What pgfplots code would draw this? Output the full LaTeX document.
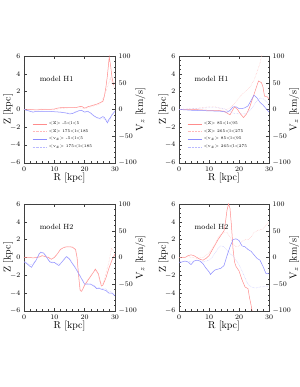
\documentclass[border=0pt]{standalone}
\usepackage{pgfplots}
\pgfplotsset{compat=1.18}
\definecolor{myred}{RGB}{255,140,140}
\definecolor{myblue}{RGB}{140,140,255}
\pgfplotsset{
 base/.style={scale only axis, width=91pt, height=107pt, xmin=0, xmax=30,
   axis line style={black!75, line width=0.4pt},
   every tick/.style={black!75, line width=0.35pt},
   major tick length=3pt, minor tick length=1.5pt,
   tick label style={font=\fontsize{7}{8}\selectfont},
   label style={font=\fontsize{7.5}{9}\selectfont},
 },
 zax/.style={base, ymin=-6, ymax=6, ytick={-6,-4,-2,0,2,4,6}, minor y tick num=3,
   xtick={0,10,20,30}, minor x tick num=4, ytick pos=left, tick align=inside,
   xlabel={R [kpc]}, ylabel={Z [kpc]},
   every axis x label/.style={at={(axis description cs:0.5,-0.14)}, anchor=center},
   every axis y label/.style={at={(axis description cs:-0.175,0.5)}, rotate=90, anchor=center}},
 vax/.style={base, ymin=-100, ymax=100, ytick={-100,-50,0,50,100}, minor y tick num=4,
   axis x line=none, axis y line*=right, tick align=inside, ylabel={V$_z$ [km/s]},
   every axis y label/.style={at={(axis description cs:1.28,0.5)}, rotate=90, anchor=center}},
 rs/.style={myred, line width=0.5pt},
 rd/.style={myred!60!white, densely dotted, line width=0.45pt},
 bs/.style={myblue, line width=0.5pt},
 bd/.style={myblue!60!white, densely dotted, line width=0.45pt},
 leg/.style={legend style={at={(0.09,0.11)}, anchor=south west, draw=none, fill=none,
   font=\fontsize{4}{5}\selectfont, row sep=-0.6pt, cells={anchor=west}, inner sep=0pt},
   legend image code/.code={\draw[##1] (0pt,0pt) -- (14pt,0pt);}},
}
\newcommand{\modellabel}[1]{\node[anchor=west, font=\fontsize{7.5}{9}\selectfont] at (rel axis cs:0.135,0.785) {#1};}
\begin{document}
\begin{tikzpicture}[x=1pt,y=1pt]
\path[use as bounding box] (0,0) rectangle (299,387);

% ================= Top-left =================
\begin{axis}[zax, at={(24pt,224pt)}, anchor=south west]
\addplot[rs] coordinates {(0,0) (2,0) (4,-0.05) (6,0) (8,0) (10,0.05) (11,0.15) (12,0.2) (14,0.25) (16,0.25) (17,0.2) (18,0.3) (19,0.35) (20,0.15) (21,0.3) (22,0.4) (23,0.5) (24,0.6) (25,0.75) (26,0.9) (26.5,1.5) (27,2.5) (27.5,3.8) (28.1,5.9) (28.6,4.8) (29,3.6) (29.5,2.8) (30,3.0)};
\addplot[rd] coordinates {(0,0) (3,0) (6,0.05) (10,0) (12,0.1) (15,0.2) (18,0.2) (20,0.1) (22,0.3) (24,0.5) (25,0.6) (26,1.2) (27,2.0) (28,3.0) (28.5,3.6) (29,2.8) (30,2.4)};
\modellabel{model H1}
\end{axis}
\begin{axis}[vax, leg, at={(24pt,224pt)}, anchor=south west]
\addlegendimage{rs}\addlegendentry{<Z> -5<l<5}
\addlegendimage{rd}\addlegendentry{<Z> 175<l<185}
\addplot[bs] coordinates {(0,0) (1,-1.7) (2,-3.3) (3,-5) (4,-3.3) (6,-3.3) (8,-3.3) (10,-4.2) (12,-5) (14,-6.7) (15,-8.3) (16,-7.5) (17,-5) (18,-2.5) (19,-1.7) (20,-5) (21,-3.3) (22,-6.7) (23,-11.7) (24,-15) (25,-16.7) (26,-13.3) (26.5,-15) (27,-20) (27.5,-25) (28,-18.3) (28.5,-15) (29,-10) (30,-3.3)};
\addlegendentry{<v$_z$> -5<l<5}
\addplot[bd] coordinates {(0,0) (2,-2.5) (3,-4) (5,-3) (8,-3.5) (10,-4) (12,-4.5) (14,-6) (15,-7) (16,-6.5) (17,-4) (18,-2) (19,-1) (20,-3.5) (21,-4.5) (22,-7) (23,-12) (24,-16) (25,-18) (26,-17) (27,-19) (27.5,-21) (28,-23) (28.5,-17) (29,-9) (30,-2)};
\addlegendentry{<v$_z$> 175<l<185}
\end{axis}

% ================= Top-right =================
\begin{axis}[zax, width=90pt, at={(179pt,224pt)}, anchor=south west]
\addplot[rs] coordinates {(0,0) (5,0) (10,-0.1) (13,-0.1) (15,-0.2) (16,-0.4) (17,-0.6) (17.5,-0.3) (18.5,0.3) (19.5,0) (20.5,-0.5) (21.5,-0.9) (22.5,-0.5) (23.5,0.2) (24.5,1.2) (25.5,2.2) (26.5,3.2) (27.5,3.0) (28,2.5) (28.5,1.5) (29.5,1.4) (30,1.2)};
\addplot[rd] coordinates {(0,0) (5,0.1) (10,0.3) (12,0.3) (14,0.1) (16,0) (17,0.2) (18,0.5) (19,0.9) (20,1.3) (21,1.7) (22,2.0) (23,2.3) (24,2.7) (25,3.3) (26,4.2) (27,5.2) (27.5,6.0) (28,6.8)};
\modellabel{model H1}
\end{axis}
\begin{axis}[vax, leg, width=90pt, at={(179pt,224pt)}, anchor=south west]
\addlegendimage{rs}\addlegendentry{<Z> 85<l<95}
\addlegendimage{rd}\addlegendentry{<Z> 265<l<275}
\addplot[bs] coordinates {(0,0) (5,-1.7) (10,-2.5) (14,-3.3) (16,-5) (17,-1.7) (18,5) (19,5) (20,1.7) (21,1.7) (22,3.3) (23,6.7) (24,16.7) (25,26.7) (26,21.7) (27,13.3) (28,8.3) (29,1.7) (30,-5)};
\addlegendentry{<v$_z$> 85<l<95}
\addplot[bd] coordinates {(0,0) (5,1.7) (10,3.3) (13,3.3) (15,1.7) (16,-1.7) (18,-6.7) (20,-8.3) (22,-8.3) (23,-5) (24,0) (25,8.3) (26,16.7) (27,21.7) (28,20) (29,15) (30,10)};
\addlegendentry{<v$_z$> 265<l<275}
\end{axis}

% ================= Bottom-left =================
\begin{axis}[zax, at={(24pt,76pt)}, anchor=south west]
\addplot[rs] coordinates {(0,0) (2,0) (3,-0.05) (4,0) (5,0.05) (6,0.2) (7,0.1) (8,0) (9,-0.2) (10,0) (11,0.4) (12,0.9) (13,1.1) (14,1.2) (15,1.2) (16,1.15) (17,0.9) (17.5,0) (18,-2) (18.5,-3.7) (19,-3.8) (20,-3.1) (21,-2.6) (22,-2.1) (23,-1.6) (23.5,-1.3) (24.5,-1.8) (25,-2.5) (25.5,-3.2) (26,-3.1) (27,-2.3) (28,-1.2) (29,-0.3) (30,0.4)};
\addplot[rd] coordinates {(0,0.05) (3,0) (5,0.1) (6,0.25) (8,0.05) (9,-0.15) (10,0.05) (11,0.45) (12,0.9) (13,1.15) (15,1.25) (16,1.2) (17,0.8) (17.5,-0.2) (18,-2.2) (18.6,-3.6) (19.2,-3.7) (20,-3.0) (22,-2.0) (23.5,-1.4) (24.5,-1.9) (25,-2.7) (26,-3.0) (27,-1.8) (28,-0.5) (28.8,1.0) (29.5,0.8) (30,0.5)};
\modellabel{model H2}
\end{axis}
\begin{axis}[vax, at={(24pt,76pt)}, anchor=south west]
\addplot[bs] coordinates {(0,-8.3) (1,-11.7) (2,-16.7) (2.5,-18.3) (3,-13.3) (4,-5) (5,6.7) (5.5,10) (6.5,8.3) (7.5,0) (8.5,-8.3) (9.5,-10) (10,-9.2) (11,-13.3) (11.5,-15) (12,-11.7) (13,-5) (14,1.7) (15,-3.3) (16,-11.7) (17,-20) (18,-30) (19,-40) (20,-50) (21,-50) (22,-50) (23,-53.3) (24,-58.3) (25,-58.3) (26,-60) (27,-61.7) (28,-66.7) (29,-66.7) (30,-71.7)};
\addplot[bd] coordinates {(0,-7) (1,-10) (2,-14) (3,-12) (4,-4) (5,7.5) (6,9) (7,5) (8,-3) (9,-8) (10,-9) (11,-12) (12,-11) (13,-4) (14,2) (15,-2) (16,-10) (17,-19) (18,-29) (19,-39) (20,-48) (21,-49) (22,-50) (23,-52) (24,-56) (25,-57) (26,-58) (27,-59) (28,-63) (29,-65) (30,-70)};
\end{axis}

% ================= Bottom-right =================
\begin{axis}[zax, width=90pt, at={(179pt,76pt)}, anchor=south west]
\addplot[rs] coordinates {(0,0) (2,0) (3,0.2) (4,0.3) (5,0.2) (6,0) (7,-0.2) (8,-0.3) (9,-0.1) (10,0.2) (11,0.8) (12,1.4) (13,2.0) (14,2.5) (15,3.0) (15.5,4.0) (16,5.3) (16.5,6.0) (17,5.5) (17.5,3.5) (18,1.0) (18.5,-0.5) (19,-1.0) (20,-1.5) (21,-2.5) (22,-3.3) (23,-3.5) (23.5,-4.5) (24,-5.3) (24.5,-6.2)};
\addplot[rd] coordinates {(0,0) (3,0.1) (6,-0.1) (8,0) (10,0.5) (12,1.5) (13,2.2) (14,2.6) (15,2.8) (16,2.8) (17,2.3) (18,1.6) (19,1.2) (20,1.3) (21,1.8) (22,2.0) (23,2.0) (24,2.3) (25,2.8) (26,3.0) (27,3.1) (28,3.2) (29,3.6) (30,4.0)};
\modellabel{model H2}
\end{axis}
\begin{axis}[vax, width=90pt, at={(179pt,76pt)}, anchor=south west]
\addplot[bs] coordinates {(0,-10) (1,-8.3) (2,-6.7) (3,-8.3) (4,-13.3) (5,-6.7) (6,-5) (7,-6.7) (8,-11.7) (9,-20) (10,-26.7) (10.5,-31.7) (11,-28.3) (12,-23.3) (13,-21.7) (14,-20) (15,-15) (16,3.3) (17,20) (18,33.3) (19,35) (20,31.7) (21,21.7) (22,20) (23,15) (24,11.7) (25,5) (26,-1.7) (27,-5) (28,-16.7) (29,-30) (30,-30)};
\addplot[bd] coordinates {(0,-8.3) (2,-6.7) (4,-8.3) (6,-5) (8,-8.3) (10,-5) (11,0) (12,8.3) (13,16.7) (14,21.7) (15,20) (16,13.3) (17,6.7) (18,3.3) (19,-5) (20,-13.3) (21,-25) (22,-38.3) (23,-50) (24,-55) (25,-56.7) (26,-56.7) (27,-55) (28,-55) (29,-53.3) (30,-55)};
\end{axis}
\end{tikzpicture}
\end{document}
